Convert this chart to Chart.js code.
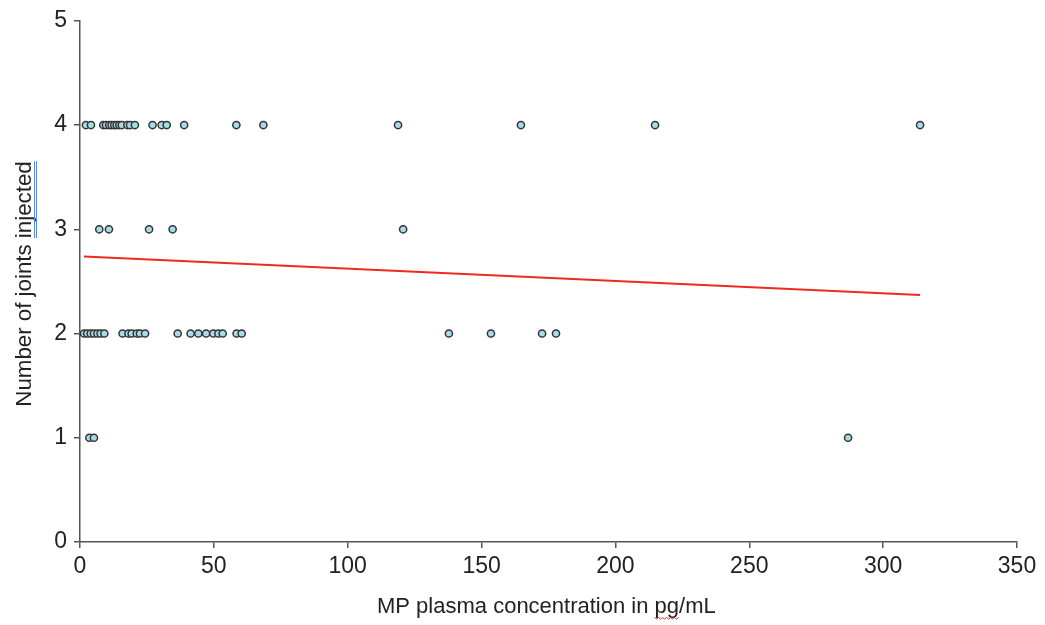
<!DOCTYPE html>
<html><head><meta charset="utf-8">
<script src="https://cdn.jsdelivr.net/npm/chart.js@4.4.0/dist/chart.umd.min.js"></script>
<style>html,body{margin:0;padding:0;background:#fff}#wrap{width:1045px;height:625px}</style>
</head><body><div id="wrap"><canvas id="c" width="1045" height="625"></canvas></div>
<script>
// Observations, grouped by number of joints injected
const joints4X = [2.2, 4.1, 8.7, 9.7, 10.9, 11.8, 12.8, 13.7, 14.7, 15.6, 17.7, 18.7, 20.5, 27.1, 30.5, 32.4, 38.9, 58.4, 68.5, 118.8, 164.7, 214.8, 313.8];
const joints3X = [7.2, 10.8, 25.8, 34.6, 120.7];
const joints2X = [1.5, 2.7, 4.0, 5.2, 6.5, 7.7, 9.1, 15.9, 18.1, 19.3, 21.2, 22.4, 24.3, 36.5, 41.3, 44.2, 47.1, 49.8, 51.7, 53.3, 58.5, 60.4, 137.8, 153.5, 172.6, 177.8];
const joints1X = [3.5, 5.2, 286.9];
const trendX = [1.5, 313.8];
const trendY = [2.74, 2.37];
const xTicks = [0, 50, 100, 150, 200, 250, 300, 350];
const yTicks = [0, 1, 2, 3, 4, 5];
const xTitle = 'MP plasma concentration in pg/mL';
const yTitle = 'Number of joints injected';

const groups = [[4, joints4X], [3, joints3X], [2, joints2X], [1, joints1X]];
const points = [];
groups.forEach(([y, xs]) => xs.forEach(x => points.push({x, y})));

const FONT = "'Liberation Sans', Arial, sans-serif";

const titles = {
  id: 'titles',
  afterDraw(chart) {
    const ctx = chart.ctx;
    ctx.save();
    ctx.fillStyle = '#222';
    // x title
    ctx.font = '22px ' + FONT;
    ctx.textAlign = 'left'; ctx.textBaseline = 'middle';
    const left = 377, cy = 607;
    ctx.fillText(xTitle, left, cy);
    const pre = ctx.measureText('MP plasma concentration in ').width;
    const pgW = ctx.measureText('pg').width;
    // red spell-check squiggle under "pg"
    const sx = left + pre, ex = sx + pgW;
    ctx.strokeStyle = '#e0302a'; ctx.lineWidth = 1;
    ctx.beginPath();
    let j = 0;
    for (let x = sx; x <= ex; x += 2, j++) {
      const yy = 618 + (j % 2 ? 1 : -0.5);
      if (j === 0) ctx.moveTo(x, yy); else ctx.lineTo(x, yy);
    }
    ctx.stroke();
    // y title
    ctx.textAlign = 'center';
    ctx.translate(25, 284);
    ctx.rotate(-Math.PI / 2);
    ctx.font = '22.3px ' + FONT;
    ctx.fillText(yTitle, 0, 0);
    const yw = ctx.measureText(yTitle).width;
    const preY = ctx.measureText('Number of joints ').width;
    const injW = ctx.measureText('injected').width;
    // blue double underline under "injected"
    ctx.strokeStyle = '#5b86e0'; ctx.lineWidth = 1;
    const ux = -yw / 2 + preY;
    [9.5, 11.5].forEach(o => {
      ctx.beginPath(); ctx.moveTo(ux, o); ctx.lineTo(ux + injW, o); ctx.stroke();
    });
    ctx.restore();
  }
};

new Chart(document.getElementById('c'), {
  type: 'scatter',
  data: {
    datasets: [
      {
        type: 'line',
        data: trendX.map((x, i) => ({x, y: trendY[i]})),
        borderColor: '#ee2a1f', borderWidth: 2, pointRadius: 0, fill: false, order: 2
      },
      {
        data: points,
        backgroundColor: '#a9dbe6', borderColor: '#333', borderWidth: 1.5,
        pointRadius: 3.6, order: 1
      }
    ]
  },
  plugins: [titles],
  options: {
    responsive: false, animation: false,
    layout: {padding: {top: 20, right: 28, left: 0, bottom: 0}},
    plugins: {legend: {display: false}, tooltip: {enabled: false}},
    scales: {
      x: {
        type: 'linear', min: 0, max: 350,
        afterBuildTicks: s => { s.ticks = xTicks.map(v => ({value: v})); },
        afterFit: s => { s.height = 83; },
        border: {color: '#555', width: 1.5},
        grid: {drawOnChartArea: false, drawTicks: true, tickLength: 6, color: '#555', lineWidth: 1.5},
        ticks: {color: '#222', font: {family: FONT, size: 23}, padding: 5, maxRotation: 0}
      },
      y: {
        type: 'linear', min: 0, max: 5,
        afterBuildTicks: s => { s.ticks = yTicks.map(v => ({value: v})); },
        afterFit: s => { s.width = 80; },
        border: {color: '#555', width: 1.5},
        grid: {drawOnChartArea: false, drawTicks: true, tickLength: 6, color: '#555', lineWidth: 1.5},
        ticks: {color: '#222', font: {family: FONT, size: 23}, padding: 7}
      }
    }
  }
});
</script>
</body></html>
